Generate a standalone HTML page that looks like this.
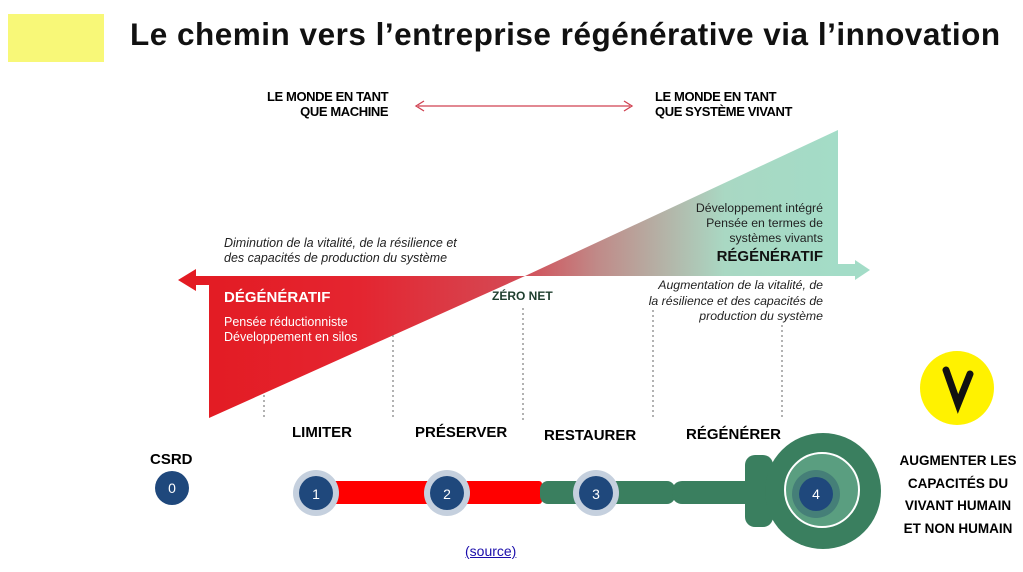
<!DOCTYPE html>
<html><head><meta charset="utf-8"><style>
body{margin:0;width:1023px;height:572px;background:#fff;overflow:hidden;position:relative;font-family:"Liberation Sans",sans-serif}
.t{position:absolute;white-space:nowrap}
</style></head><body>
<div style="position:absolute;left:8px;top:14px;width:96px;height:48px;background:#f8f878"></div>
<div class="t" style="left:130px;top:16px;font-size:31.5px;font-weight:bold;color:#111;letter-spacing:0.5px">Le chemin vers l’entreprise régénérative via l’innovation</div>
<svg width="1023" height="572" style="position:absolute;left:0;top:0">
<defs>
<linearGradient id="g" x1="200" y1="0" x2="840" y2="0" gradientUnits="userSpaceOnUse">
<stop offset="0" stop-color="#e31b23"/><stop offset="0.25" stop-color="#e42530"/><stop offset="0.5" stop-color="#d44a55"/><stop offset="0.62" stop-color="#c08a88"/><stop offset="0.82" stop-color="#a9d8c3"/><stop offset="1" stop-color="#a3dcc7"/></linearGradient>
</defs>
<polygon points="178,280 196,269 196,276 525,276 209,418 209,285 196,285 196,291" fill="url(#g)"/>
<polygon points="525,276 838,130 838,264 855,264 855,260 870,270 855,280 855,276 525,276" fill="url(#g)"/>
<line x1="418" y1="106" x2="630" y2="106" stroke="#d04050" stroke-width="1.3"/>
<polyline points="424,101 416,106 424,111" fill="none" stroke="#d04050" stroke-width="1.3"/>
<polyline points="624,101 632,106 624,111" fill="none" stroke="#d04050" stroke-width="1.3"/>
<g stroke="#666" stroke-width="1" stroke-dasharray="2,3">
<line x1="264" y1="395" x2="264" y2="420"/><line x1="393" y1="335" x2="393" y2="420"/>
<line x1="523" y1="308" x2="523" y2="420"/><line x1="653" y1="310" x2="653" y2="420"/>
<line x1="782" y1="325" x2="782" y2="420"/></g>
<rect x="330" y="481" width="212" height="23" fill="#f00" rx="3"/>
<rect x="540" y="481" width="135" height="23" fill="#3a7f5f" rx="8"/>
<rect x="672" y="481" width="100" height="23" fill="#3a7f5f" rx="10"/>
<rect x="745" y="455" width="28" height="72" fill="#3a7f5f" rx="10"/>
<circle cx="823" cy="491" r="58" fill="#3a7f5f"/>
<circle cx="822" cy="490" r="37" fill="#5a9e80" stroke="#fff" stroke-width="2"/>
<circle cx="816" cy="494" r="24" fill="#457f78"/>
<circle cx="816" cy="494" r="17" fill="#1f487c"/>
<g fill="#c5d0de"><circle cx="316" cy="493" r="23"/><circle cx="447" cy="493" r="23"/><circle cx="596" cy="493" r="23"/></g>
<g fill="#1f487c"><circle cx="172" cy="488" r="17"/><circle cx="316" cy="493" r="17"/><circle cx="447" cy="493" r="17"/><circle cx="596" cy="493" r="17"/></g>
<g fill="#fff" font-size="14" text-anchor="middle" font-family="Liberation Sans"><text x="172" y="493">0</text><text x="316" y="499">1</text><text x="447" y="499">2</text><text x="596" y="499">3</text><text x="816" y="499">4</text></g>
<circle cx="957" cy="388" r="37" fill="#fff200"/>
<path d="M946,370 L958,404 L970,374" fill="none" stroke="#111" stroke-width="7" stroke-linecap="round"/>
</svg>
<div class="t" style="left:267px;top:89px;font-size:13px;font-weight:bold;text-align:right;line-height:15px;letter-spacing:-0.4px">LE MONDE EN TANT<br>&nbsp;&nbsp;&nbsp;&nbsp;QUE MACHINE</div>
<div class="t" style="left:655px;top:89px;font-size:13px;font-weight:bold;line-height:15px;letter-spacing:-0.4px">LE MONDE EN TANT<br>QUE SYSTÈME VIVANT</div>
<div class="t" style="left:224px;top:236px;font-size:12.5px;font-style:italic;line-height:15px;color:#222">Diminution de la vitalité, de la résilience et<br>des capacités de production du système</div>
<div class="t" style="left:224px;top:289px;font-size:15px;font-weight:bold;color:#fff">DÉGÉNÉRATIF</div>
<div class="t" style="left:224px;top:315px;font-size:12.5px;line-height:15px;color:#fff">Pensée réductionniste<br>Développement en silos</div>
<div class="t" style="left:492px;top:289px;font-size:12px;font-weight:bold;color:#1e3e2e">ZÉRO NET</div>
<div class="t" style="right:200px;top:201px;font-size:12.3px;line-height:15px;text-align:right;color:#222">Développement intégré<br>Pensée en termes de<br>systèmes vivants</div>
<div class="t" style="right:200px;top:248px;font-size:15px;font-weight:bold;color:#111">RÉGÉNÉRATIF</div>
<div class="t" style="right:200px;top:278px;font-size:12.3px;font-style:italic;line-height:15.5px;text-align:right;color:#222">Augmentation de la vitalité, de<br>la résilience et des capacités de<br>production du système</div>
<div class="t" style="left:292px;top:424px;font-size:15px;font-weight:bold">LIMITER</div>
<div class="t" style="left:415px;top:424px;font-size:15px;font-weight:bold">PRÉSERVER</div>
<div class="t" style="left:544px;top:427px;font-size:15px;font-weight:bold">RESTAURER</div>
<div class="t" style="left:686px;top:426px;font-size:15px;font-weight:bold">RÉGÉNÉRER</div>
<div class="t" style="left:150px;top:451px;font-size:15px;font-weight:bold">CSRD</div>
<div class="t" style="left:893px;top:450px;width:130px;text-align:center;font-size:13.5px;font-weight:bold;line-height:22.5px">AUGMENTER LES<br>CAPACITÉS DU<br>VIVANT HUMAIN<br>ET NON HUMAIN</div>
<div class="t" style="left:465px;top:543px;font-size:14px;color:#1a0dab;text-decoration:underline">(source)</div>
</body></html>
